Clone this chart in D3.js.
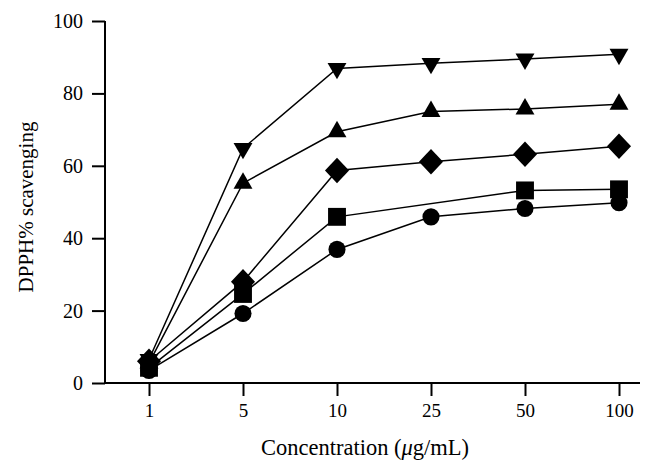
<!DOCTYPE html>
<html><head><meta charset="utf-8">
<script src="https://cdn.jsdelivr.net/npm/d3@7"></script>
<style>body{margin:0;background:#fff}svg{display:block}text{font-family:"Liberation Serif","DejaVu Serif",serif;fill:#000}</style>
</head><body>
<script>
const categories = ["1","5","10","25","50","100"];
const circleVals  = [3.5, 19.2, 36.9, 45.9, 48.2, 49.8];
const squareVals  = [4.2, 24.6, 45.9, null, 53.2, 53.5];
const diamondVals = [6.0, 28.0, 58.7, 61.1, 63.2, 65.4];
const triUpVals   = [5.5, 55.2, 69.4, 75.0, 75.7, 77.0];
const triDownVals = [6.5, 64.8, 86.9, 88.3, 89.5, 90.8];
const yTicks = [0, 20, 40, 60, 80, 100];

const series = [
  {name:"circle", values:circleVals, sym:d3.symbolCircle, size:230, tf:""},
  {name:"square", values:squareVals, sym:d3.symbolSquare, size:320, tf:""},
  {name:"diamond", values:diamondVals, sym:d3.symbolSquare, size:290, tf:" scale(1,1.06) rotate(45)"},
  {name:"triangleUp", values:triUpVals, sym:d3.symbolTriangle, size:155, tf:""},
  {name:"triangleDown", values:triDownVals, sym:d3.symbolTriangle, size:155, tf:" rotate(180)"}
];

const W = 654, H = 474;
const svg = d3.select("body").append("svg").attr("width", W).attr("height", H);

const x = d3.scalePoint().domain(categories).range([149, 619]);
const y = d3.scaleLinear().domain([0, 100]).range([383, 21]);
const axisLeftX = 105, axisRightX = 640;

// y axis
const gy = svg.append("g").attr("transform", `translate(${axisLeftX},0)`)
  .call(d3.axisLeft(y).tickValues(yTicks).tickSize(13).tickPadding(9));
gy.select(".domain").attr("d", `M0,${y(100)}V${y(0)}`);
gy.selectAll(".tick text").attr("font-size", 20);
// x axis
const gx = svg.append("g").attr("transform", `translate(0,${y(0)})`)
  .call(d3.axisBottom(x).tickSize(13).tickPadding(8));
gx.select(".domain").attr("d", `M${axisLeftX},0H${axisRightX}`);
gx.selectAll(".tick text").attr("font-size", 19);
svg.selectAll(".tick line, .domain").attr("stroke", "#000").attr("stroke-width", 2);
svg.selectAll(".tick text").attr("font-family", '"Liberation Serif", serif');

// titles
svg.append("text").attr("x", 365).attr("y", 455).attr("text-anchor", "middle").attr("font-size", 22.5)
  .html('Concentration (<tspan font-style="italic">μ</tspan>g/mL)');
svg.append("text").attr("transform", "translate(33,207) rotate(-90)").attr("text-anchor", "middle")
  .attr("font-size", 21).text("DPPH% scavenging");

const line = d3.line().x(d => x(d.c)).y(d => y(d.v));
series.forEach(s => {
  const pts = categories.map((c, i) => ({c, v: s.values[i]})).filter(d => d.v != null);
  svg.append("path").datum(pts).attr("d", line).attr("fill", "none")
    .attr("stroke", "#000").attr("stroke-width", 1.5);
});
series.forEach(s => {
  const pts = categories.map((c, i) => ({c, v: s.values[i]})).filter(d => d.v != null);
  svg.append("g").selectAll("path").data(pts).join("path")
    .attr("d", d3.symbol().type(s.sym).size(s.size))
    .attr("transform", d => `translate(${x(d.c)},${y(d.v)})` + s.tf)
    .attr("fill", "#000");
});
</script>
</body></html>
